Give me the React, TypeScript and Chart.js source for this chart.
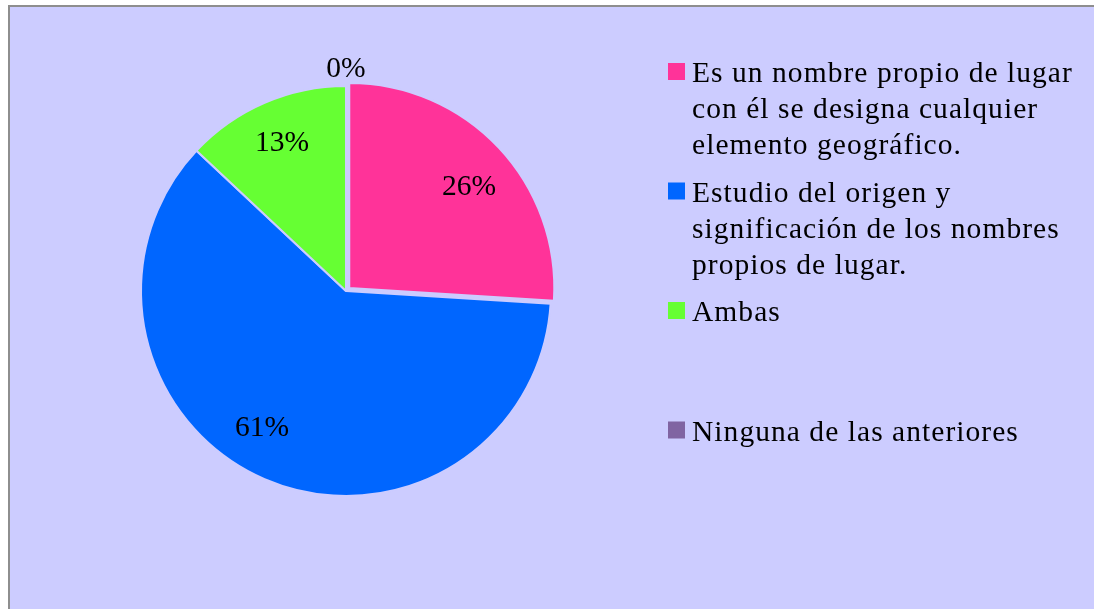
import React, { useEffect, useRef } from "react";
import { Chart, registerables } from "chart.js";

Chart.register(...registerables);

// Categories (legend lines as they wrap in the reference)
const categories: string[][] = [
  ["Es un nombre propio de lugar", "con él se designa cualquier", "elemento geográfico."],
  ["Estudio del origen y", "significación de los nombres", "propios de lugar."],
  ["Ambas"],
  ["Ninguna de las anteriores"],
];
const values: number[] = [26, 61, 13, 0];
const percentLabels: string[] = ["26%", "61%", "13%", "0%"];
const colors: string[] = ["#FF3399", "#0066FF", "#66FF33", "#8064A2"];

const BG = "#CCCCFF";
const FONT = "Liberation Serif";

const backgroundPlugin = {
  id: "bgFrame",
  beforeDraw(chart: any) {
    const { ctx, width, height } = chart;
    ctx.save();
    ctx.fillStyle = "#FFFFFF";
    ctx.fillRect(0, 0, width, height);
    ctx.fillStyle = BG;
    ctx.fillRect(8, 5, width - 8, height - 5);
    ctx.fillStyle = "#8E8E8E";
    ctx.fillRect(8, 5, 2, height - 5);
    ctx.fillRect(8, 5, width - 8, 2);
    ctx.restore();
  },
};

const labelPlugin = {
  id: "sliceLabels",
  afterDatasetsDraw(chart: any) {
    const { ctx } = chart;
    const meta = chart.getDatasetMeta(0);
    const shifts = [3, 8, 0, 0];
    ctx.save();
    ctx.font = `29.5px "${FONT}"`;
    ctx.fillStyle = "#000000";
    ctx.textAlign = "center";
    ctx.textBaseline = "middle";
    meta.data.forEach((arc: any, i: number) => {
      const p = arc.getProps(["x", "y", "startAngle", "endAngle", "outerRadius"], true);
      const v = values[i];
      const mid = (p.startAngle + p.endAngle) / 2 + (shifts[i] * Math.PI) / 180;
      const frac = v > 0 ? 0.785 : 1.08;
      const r = p.outerRadius * frac;
      const x = p.x + Math.cos(mid) * r;
      const y = p.y + Math.sin(mid) * r;
      ctx.fillText(percentLabels[i], x, y);
    });
    ctx.restore();
  },
};

const legendPlugin = {
  id: "wrappedLegend",
  afterDraw(chart: any) {
    const { ctx } = chart;
    ctx.save();
    ctx.font = `29.5px "${FONT}"`;
    try {
      (ctx as any).letterSpacing = "1.05px";
    } catch (e) {}
    ctx.textAlign = "left";
    ctx.textBaseline = "alphabetic";
    categories.forEach((lines, i) => {
      const base = 82 + i * 119.5;
      ctx.fillStyle = colors[i];
      ctx.fillRect(668, base - 19, 17, 17);
      ctx.fillStyle = "#000000";
      lines.forEach((line, j) => {
        ctx.fillText(line, 692, base + j * 36);
      });
    });
    ctx.restore();
  },
};

export default function App() {
  const ref = useRef<HTMLCanvasElement | null>(null);
  useEffect(() => {
    if (!ref.current) return;
    const chart = new Chart(ref.current, {
      type: "pie",
      data: {
        labels: categories.map((l) => l.join(" ")),
        datasets: [
          {
            data: values,
            backgroundColor: colors,
            borderColor: BG,
            borderWidth: 2,
            offset: [18, 0, 0, 0],
          },
        ],
      },
      options: {
        animation: false,
        responsive: false,
        radius: 205,
        layout: { padding: { left: 140, right: 542, top: 80, bottom: 107 } },
        plugins: {
          legend: { display: false },
          tooltip: { enabled: false },
        },
      } as any,
      plugins: [backgroundPlugin, labelPlugin, legendPlugin],
    });
    return () => chart.destroy();
  }, []);
  return (
    <div style={{ position: "absolute", left: 0, top: 0, width: 1094, height: 609 }}>
      <canvas ref={ref} width={1094} height={609} style={{ display: "block" }} />
    </div>
  );
}
